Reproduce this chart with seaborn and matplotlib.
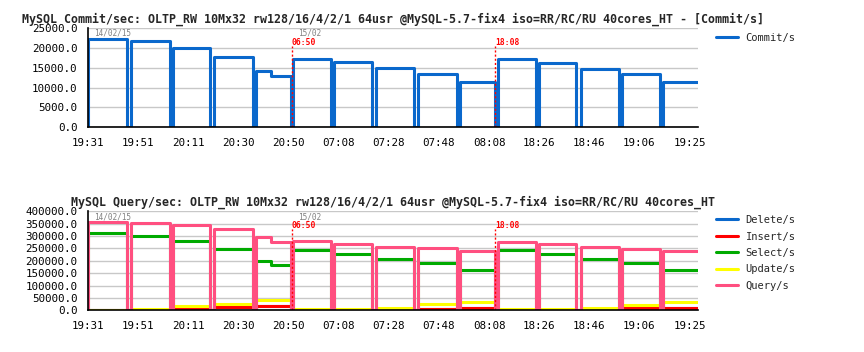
import numpy as np
import pandas as pd
import matplotlib
matplotlib.use("Agg")
import matplotlib.pyplot as plt
import seaborn as sns
from matplotlib.ticker import FormatStrFormatter, FixedLocator
from matplotlib.lines import Line2D

# ---------------- data ----------------
tick_pos = [0, 20, 40, 60, 80, 100, 120, 140, 160, 180, 200, 220, 240]
tick_labels = ['19:31', '19:51', '20:11', '20:30', '20:50', '07:08', '07:28',
               '07:48', '08:08', '18:26', '18:46', '19:06', '19:25']

# test run segments (sample index units)
seg_start = [0.1, 17.2, 34.0, 50.4, 67.0, 73.2, 81.7, 98.2, 114.8, 131.5,
             148.4, 163.5, 179.8, 196.6, 213.1, 229.6]
seg_end = [15.7, 32.6, 48.8, 65.7, 73.2, 81.1, 96.8, 113.5, 130.1, 147.1,
           162.4, 178.6, 194.9, 212.0, 228.3, 245.0]

commit = [22300, 21600, 19900, 17700, 14100, 12900, 17300, 16400, 14800, 13500,
          11450, 17150, 16250, 14700, 13400, 11300]
query = [358000, 353000, 345000, 328000, 297000, 274000, 280000, 268000, 256000, 250000,
         240000, 276000, 269000, 254000, 248000, 239000]
select = [313000, 302000, 280000, 249000, 200000, 183000, 244000, 229000, 207000, 191000,
          162000, 242000, 229000, 206000, 190000, 161000]
update = [3000, 5000, 15800, 26300, 43000, 40000, 4000, 4000, 11000, 23700,
          34200, 4000, 4000, 10500, 22400, 34200]
insert = [700, 1500, 7900, 11800, 15800, 15800, 800, 800, 6000, 6600,
          10500, 800, 800, 5300, 7900, 7900]
delete = [700, 1500, 7900, 11800, 15800, 15800, 800, 800, 6000, 6600,
          10500, 800, 800, 5300, 7900, 7900]

marker_pos = [81.2, 162.4]
marker_labels = ['06:50', '18:08']

title_top = ("MySQL Commit/sec: OLTP_RW 10Mx32 rw128/16/4/2/1 64usr "
             "@MySQL-5.7-fix4 iso=RR/RC/RU 40cores_HT - [Commit/s]")
title_bot = ("MySQL Query/sec: OLTP_RW 10Mx32 rw128/16/4/2/1 64usr "
             "@MySQL-5.7-fix4 iso=RR/RC/RU 40cores_HT")

series_names = ['Delete/s', 'Insert/s', 'Select/s', 'Update/s', 'Query/s']
series_vals = [delete, insert, select, update, query]
colors = {'Commit/s': '#0a68cc', 'Delete/s': '#0a68cc', 'Insert/s': '#ff0000',
          'Select/s': '#00aa00', 'Update/s': '#ffff00', 'Query/s': '#ff4f80'}


def step_series(values):
    xs, ys = [0.0], [0.0]
    n = len(seg_start)
    for i, (s, e, v) in enumerate(zip(seg_start, seg_end, values)):
        xs.append(s)
        ys.append(v)
        if i + 1 >= n or seg_start[i + 1] > e:
            xs.append(e)
            ys.append(0.0)
    return xs, ys


# ---------------- style ----------------
sns.set_style("white")
MONO = ['DejaVu Sans Mono']
plt.rcParams['font.family'] = MONO

fig = plt.figure(figsize=(8.64, 3.52), dpi=100)
ax1 = fig.add_axes([0.1019, 0.6384, 0.7057, 0.2821])
ax2 = fig.add_axes([0.1019, 0.1185, 0.7057, 0.2812])

# top: commits
cx, cy = step_series(commit)
df_top = pd.DataFrame({'x': cx, 'y': cy, 'series': 'Commit/s'})
sns.lineplot(data=df_top, x='x', y='y', hue='series', palette=colors,
             estimator=None, sort=False, drawstyle='steps-post',
             linewidth=2.2, legend=False, ax=ax1)

# bottom: queries
frames = []
for name, vals in zip(series_names, series_vals):
    xs, ys = step_series(vals)
    frames.append(pd.DataFrame({'x': xs, 'y': ys, 'series': name}))
df_bot = pd.concat(frames, ignore_index=True)
sns.lineplot(data=df_bot, x='x', y='y', hue='series', hue_order=series_names,
             palette=colors, estimator=None, sort=False, drawstyle='steps-post',
             linewidth=2.2, legend=False, ax=ax2)

for ax, ymax, ystep in [(ax1, 25000, 5000), (ax2, 400000, 50000)]:
    ax.set_xlim(0, 243.3)
    ax.set_ylim(0, ymax)
    ax.yaxis.set_major_locator(FixedLocator(np.arange(0, ymax + 1, ystep)))
    ax.yaxis.set_major_formatter(FormatStrFormatter('%.1f'))
    ax.set_xticks(tick_pos)
    ax.set_xticklabels(tick_labels)
    ax.set_xlabel('')
    ax.set_ylabel('')
    for s in ['top', 'right']:
        ax.spines[s].set_visible(False)
    for s in ['left', 'bottom']:
        ax.spines[s].set_color('black')
        ax.spines[s].set_linewidth(1.2)
    ax.grid(axis='y', color='#c8c8c8', linewidth=1.0)
    ax.grid(axis='x', visible=False)
    ax.set_axisbelow(True)
    ax.tick_params(axis='both', length=4.5, width=1.0, color='black',
                   labelsize=7.8, pad=3, labelcolor='black')
    # annotations
    ax.text(0.0093, 0.947, '14/02/15', transform=ax.transAxes, fontsize=5.6,
            color='#808080', va='center', ha='left')
    ax.text(0.344, 0.947, '15/02', transform=ax.transAxes, fontsize=5.6,
            color='#808080', va='center', ha='left')
    for mp, ml in zip(marker_pos, marker_labels):
        ax.axvline(mp, ymin=0, ymax=0.82, color='red', linewidth=1.0,
                   linestyle=(0, (1.5, 1.5)))
        ax.text(mp, 0.852, ml, transform=ax.get_xaxis_transform(), fontsize=5.8,
                color='red', fontweight='bold', va='center', ha='left')

ax1.set_title(title_top, fontsize=8.4, fontweight='bold', pad=4)
ax2.set_title(title_bot, fontsize=8.4, fontweight='bold', pad=4)

# legends
h_top = [Line2D([], [], color=colors['Commit/s'], linewidth=2.2)]
ax1.legend(h_top, ['Commit/s'], loc='upper left', bbox_to_anchor=(0.8287, 0.906),
           bbox_transform=fig.transFigure, frameon=False, fontsize=7.5,
           handlelength=2.1, handletextpad=0.75, borderpad=0, borderaxespad=0)
h_bot = [Line2D([], [], color=colors[n], linewidth=2.2) for n in series_names]
ax2.legend(h_bot, series_names, loc='upper left', bbox_to_anchor=(0.8287, 0.389),
           bbox_transform=fig.transFigure, frameon=False, fontsize=7.5,
           handlelength=2.1, handletextpad=0.75, borderpad=0, borderaxespad=0,
           labelspacing=0.62)

fig.savefig('out.png', dpi=100)
